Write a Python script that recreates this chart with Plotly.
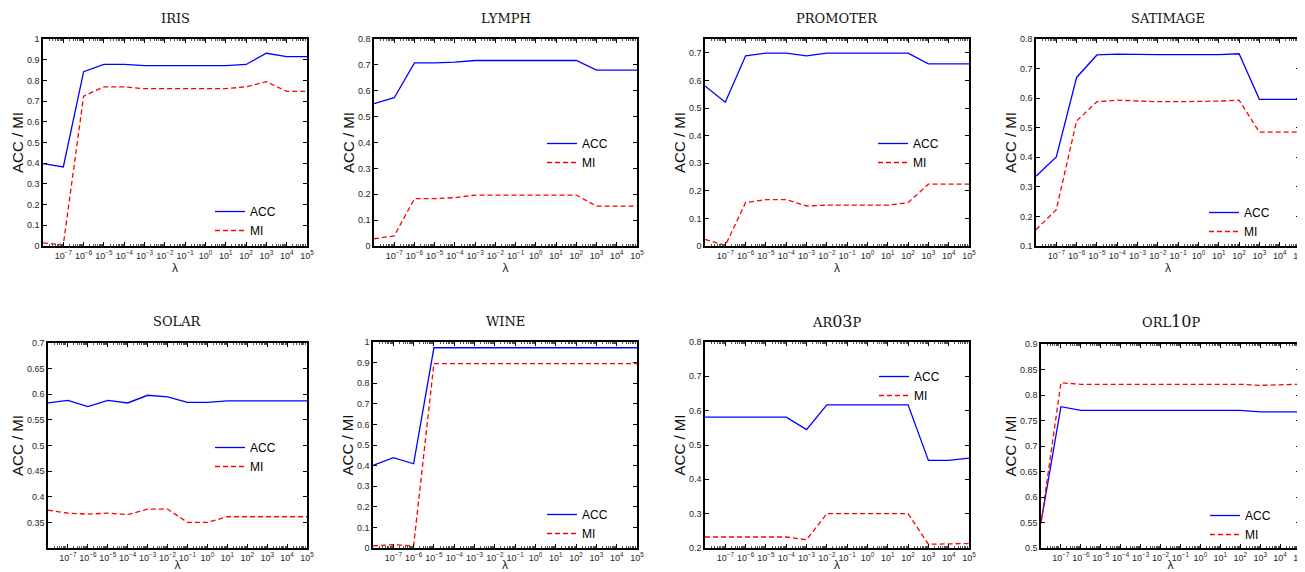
import plotly.graph_objects as go

# The page body keeps the browser's 8px default margin, so the figure is
# sized to the window minus that offset and pixel positions are shifted.
OFF = 8
W, H = 1305 - OFF, 572 - OFF

lambdas = [1e-8, 1e-7, 1e-6, 1e-5, 1e-4, 1e-3, 1e-2, 1e-1, 1e0, 1e1, 1e2, 1e3, 1e4, 1e5]
xtick_vals = [1e-7, 1e-6, 1e-5, 1e-4, 1e-3, 1e-2, 1e-1, 1e0, 1e1, 1e2, 1e3, 1e4, 1e5]
xtick_text = ["10<sup>−7</sup>", "10<sup>−6</sup>", "10<sup>−5</sup>", "10<sup>−4</sup>",
              "10<sup>−3</sup>", "10<sup>−2</sup>", "10<sup>−1</sup>", "10<sup>0</sup>",
              "10<sup>1</sup>", "10<sup>2</sup>", "10<sup>3</sup>", "10<sup>4</sup>", "10<sup>5</sup>"]

titles = ["IRIS", "LYMPH", "PROMOTER", "SATIMAGE", "SOLAR", "WINE",
          "AR<span style='font-size:16px'>03</span>P",
          "ORL<span style='font-size:16px'>10</span>P"]

iris_acc = [0.398, 0.382, 0.842, 0.877, 0.877, 0.871, 0.871, 0.871, 0.871, 0.871, 0.877, 0.931, 0.915, 0.915]
iris_mi = [0.015, 0.006, 0.724, 0.769, 0.769, 0.760, 0.760, 0.760, 0.760, 0.760, 0.769, 0.794, 0.747, 0.747]

lymph_acc = [0.550, 0.573, 0.708, 0.708, 0.711, 0.717, 0.717, 0.717, 0.717, 0.717, 0.717, 0.680, 0.680, 0.680]
lymph_mi = [0.028, 0.039, 0.183, 0.183, 0.187, 0.197, 0.197, 0.197, 0.197, 0.197, 0.197, 0.154, 0.154, 0.154]

promoter_acc = [0.580, 0.521, 0.689, 0.699, 0.699, 0.689, 0.699, 0.699, 0.699, 0.699, 0.699, 0.660, 0.660, 0.660]
promoter_mi = [0.024, 0.002, 0.157, 0.168, 0.168, 0.145, 0.148, 0.148, 0.148, 0.148, 0.157, 0.224, 0.224, 0.224]

satimage_acc = [0.336, 0.401, 0.670, 0.746, 0.749, 0.747, 0.747, 0.747, 0.747, 0.747, 0.750, 0.596, 0.596, 0.596]
satimage_mi = [0.155, 0.223, 0.523, 0.588, 0.593, 0.590, 0.588, 0.588, 0.588, 0.590, 0.593, 0.485, 0.485, 0.485]

solar_acc = [0.583, 0.588, 0.576, 0.588, 0.583, 0.598, 0.595, 0.584, 0.584, 0.587, 0.587, 0.587, 0.587, 0.587]
solar_mi = [0.374, 0.368, 0.366, 0.368, 0.365, 0.376, 0.376, 0.350, 0.350, 0.361, 0.361, 0.361, 0.361, 0.361]

wine_acc = [0.401, 0.439, 0.409, 0.972, 0.972, 0.972, 0.972, 0.972, 0.972, 0.972, 0.972, 0.972, 0.972, 0.972]
wine_mi = [0.010, 0.016, 0.011, 0.895, 0.895, 0.895, 0.895, 0.895, 0.895, 0.895, 0.895, 0.895, 0.895, 0.895]

ar03p_acc = [0.581, 0.581, 0.581, 0.581, 0.581, 0.545, 0.617, 0.617, 0.617, 0.617, 0.617, 0.455, 0.455, 0.462]
ar03p_mi = [0.232, 0.232, 0.232, 0.232, 0.232, 0.224, 0.300, 0.300, 0.300, 0.300, 0.300, 0.211, 0.211, 0.213]

orl10p_acc = [0.550, 0.777, 0.770, 0.770, 0.770, 0.770, 0.770, 0.770, 0.770, 0.770, 0.770, 0.767, 0.767, 0.767]
orl10p_mi = [0.548, 0.824, 0.821, 0.821, 0.821, 0.821, 0.821, 0.821, 0.821, 0.821, 0.821, 0.819, 0.820, 0.821]

acc_series = [iris_acc, lymph_acc, promoter_acc, satimage_acc, solar_acc, wine_acc, ar03p_acc, orl10p_acc]
mi_series = [iris_mi, lymph_mi, promoter_mi, satimage_mi, solar_mi, wine_mi, ar03p_mi, orl10p_mi]

y_ranges = [[0, 1], [0, 0.8], [0, 0.75], [0.1, 0.8], [0.3, 0.7], [0, 1], [0.2, 0.8], [0.5, 0.9]]
y_ticks = [
    [0, 0.1, 0.2, 0.3, 0.4, 0.5, 0.6, 0.7, 0.8, 0.9, 1],
    [0, 0.1, 0.2, 0.3, 0.4, 0.5, 0.6, 0.7, 0.8],
    [0, 0.1, 0.2, 0.3, 0.4, 0.5, 0.6, 0.7],
    [0.1, 0.2, 0.3, 0.4, 0.5, 0.6, 0.7, 0.8],
    [0.35, 0.4, 0.45, 0.5, 0.55, 0.6, 0.65, 0.7],
    [0, 0.1, 0.2, 0.3, 0.4, 0.5, 0.6, 0.7, 0.8, 0.9, 1],
    [0.2, 0.3, 0.4, 0.5, 0.6, 0.7, 0.8],
    [0.5, 0.55, 0.6, 0.65, 0.7, 0.75, 0.8, 0.85, 0.9],
]
y_tick_text = [[("%g" % v) for v in t] for t in y_ticks]

# plot boxes in window pixels: (left, right, top, bottom)
boxes = [
    (43, 307, 39, 246), (374, 637, 39, 246), (705, 969, 39, 246), (1036, 1300, 39, 246),
    (48, 307, 343, 548), (373, 637, 342, 548), (705, 969, 342, 548), (1041, 1300, 344, 548),
]
# legend text start x and ACC row centre y in window pixels
legend_pos = [(248, 211), (580, 143), (911, 143), (1242, 212),
              (248, 447), (580, 514), (912, 376), (1243, 515)]


def px_x(p):
    return (p - OFF) / W


def px_y(p):
    return 1 - (p - OFF) / H


tick_font = dict(family="Liberation Sans, Arial, sans-serif", size=9, color="#262626")

fig = go.Figure()
layout = dict(
    width=W, height=H, margin=dict(l=0, r=0, t=0, b=0, autoexpand=False),
    paper_bgcolor="white", plot_bgcolor="white", showlegend=True,
)
annotations = []
for i in range(8):
    n = i + 1
    xa = "x" if n == 1 else "x%d" % n
    ya = "y" if n == 1 else "y%d" % n
    lg = "legend" if n == 1 else "legend%d" % n
    fig.add_trace(go.Scatter(x=lambdas, y=acc_series[i], mode="lines", name="ACC",
                             line=dict(color="#0000ff", width=1.3),
                             xaxis=xa, yaxis=ya, legend=lg))
    fig.add_trace(go.Scatter(x=lambdas, y=mi_series[i], mode="lines", name="MI",
                             line=dict(color="#ff0000", width=1.3, dash="5px,3px"),
                             xaxis=xa, yaxis=ya, legend=lg))
    l, r, t, b = boxes[i]
    xkey = "xaxis" if n == 1 else "xaxis%d" % n
    ykey = "yaxis" if n == 1 else "yaxis%d" % n
    layout[xkey] = dict(
        type="log", domain=[px_x(l), px_x(r)], anchor=ya, range=[-8, 5], automargin=False,
        tickmode="array", tickvals=xtick_vals, ticktext=xtick_text,
        ticks="inside", ticklen=4, tickcolor="black", tickwidth=1,
        showline=True, linecolor="black", linewidth=1.5, mirror="ticks",
        showgrid=False, zeroline=False, tickfont=tick_font, ticklabeloverflow="allow",
        minor=dict(ticks="inside", ticklen=2, tickcolor="#555", dtick="D1", showgrid=False),
        title=dict(text="λ", font=dict(family="Liberation Sans, Arial, sans-serif", size=12, color="#222"), standoff=0),
    )
    layout[ykey] = dict(
        domain=[px_y(b), px_y(t)], anchor=xa, range=y_ranges[i], automargin=False,
        tickmode="array", tickvals=y_ticks[i], ticktext=y_tick_text[i],
        ticks="inside", ticklen=4, tickcolor="black", tickwidth=1,
        showline=True, linecolor="black", linewidth=1.5, mirror="ticks",
        showgrid=False, zeroline=False, tickfont=tick_font, ticklabeloverflow="allow",
        title=dict(text="ACC / MI", font=dict(family="Liberation Sans, Arial, sans-serif", size=15, color="#111"), standoff=0),
    )
    tx, ty = legend_pos[i]
    layout[lg] = dict(
        x=px_x(tx - 38), y=px_y(ty + 10), xanchor="left", yanchor="middle",
        bgcolor="rgba(0,0,0,0)", borderwidth=0,
        font=dict(family="Liberation Sans, Arial, sans-serif", size=12, color="black"),
        tracegroupgap=0,
    )
    title_y = 19 if i < 4 else 321
    annotations.append(dict(
        text=titles[i], x=px_x((l + r) / 2), y=px_y(title_y), xref="paper", yref="paper",
        xanchor="center", yanchor="middle", showarrow=False,
        font=dict(family="DejaVu Serif, serif", size=13, color="#111"),
    ))
layout["annotations"] = annotations
fig.update_layout(**layout)
fig.write_html("out.html")
